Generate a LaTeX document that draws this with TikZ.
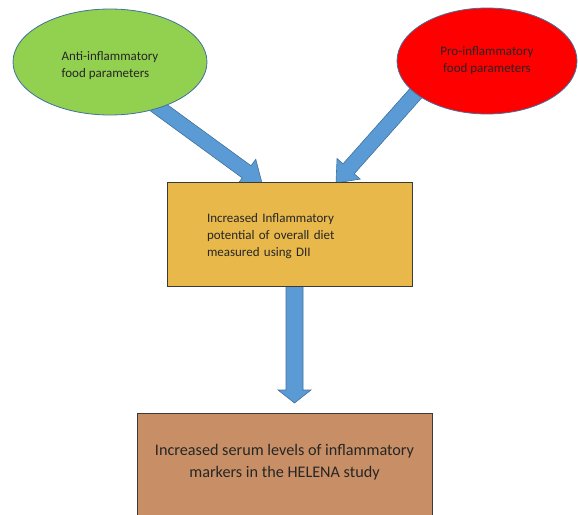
\documentclass[tikz,border=0pt]{standalone}
\usepackage{fontspec}
\setmainfont{Carlito}
\usetikzlibrary{calc,backgrounds,shapes.geometric}
\definecolor{greenfill}{HTML}{92D050}
\definecolor{redfill}{HTML}{FF0000}
\definecolor{goldfill}{HTML}{E8B84B}
\definecolor{brownfill}{HTML}{C88F66}
\definecolor{arrowfill}{HTML}{5B9BD5}
\definecolor{arrowline}{HTML}{41719C}
\definecolor{boxline}{HTML}{3A3A3A}
\tikzset{
  oval/.style={ellipse, draw=arrowline, line width=0.8pt, inner sep=0pt,
    minimum width=194pt, minimum height=106pt, align=left,
    font=\fontsize{13}{17}\selectfont, text=black!85},
  goldbox/.style={rectangle, draw=boxline, line width=1pt, fill=goldfill,
    text width=165pt, inner xsep=40pt, minimum height=104pt, align=left,
    text height=12.5pt,
    font=\fontsize{13}{17}\selectfont, text=black!85},
  brownbox/.style={rectangle, draw=boxline, line width=1pt, fill=brownfill,
    minimum width=295pt, minimum height=110pt, align=center, text depth=16pt,
    font=\fontsize{16.2}{22}\selectfont, text=black!85},
  fatarrowstyle/.style={fill=arrowfill, draw=arrowline, line width=0.6pt, line join=miter},
}
\newcommand\fatarrow[5]{%
  \coordinate (fa-h) at ($(#2)!#5!(#1)$);
  \path[fatarrowstyle]
    ($(#1)!#3!90:(#2)$) -- ($(fa-h)!#3!90:(#2)$) -- ($(fa-h)!#4!90:(#2)$) --
    (#2) -- ($(fa-h)!#4!-90:(#2)$) -- ($(fa-h)!#3!-90:(#2)$) --
    ($(#1)!#3!-90:(#2)$) -- cycle;}
\begin{document}
\begin{tikzpicture}[x=1pt,y=-1pt]
\useasboundingbox (0,0) rectangle (578,514);
\node[oval, fill=greenfill, text height=34pt] (anti) at (110,62) {Anti-inflammatory\\food parameters};
\node[oval, fill=redfill, minimum width=180pt, align=center] (pro) at (487,61) {Pro-inflammatory\\food parameters};
\node[goldbox] (dii) at (289.5,234) {Increased Inflammatory\\potential of overall diet\\measured using DII};
\node[brownbox, anchor=north] (helena) at (284.5,413) {Increased serum levels of inflammatory\\markers in the HELENA study};
\coordinate (a1s) at (155,105);
\coordinate (a1e) at (262,183);
\coordinate (a2s) at (424,84);
\coordinate (a2e) at (336,183);
\coordinate (a3s) at (294.5,280);
\coordinate (a3e) at (294.5,403);
\begin{pgfonlayer}{background}
  \fatarrow{a1s}{a1e}{7.5pt}{15.5pt}{19pt}
  \fatarrow{a2s}{a2e}{7.5pt}{15.5pt}{19pt}
  \fatarrow{a3s}{a3e}{8.5pt}{16.5pt}{13pt}
\end{pgfonlayer}
\end{tikzpicture}
\end{document}
